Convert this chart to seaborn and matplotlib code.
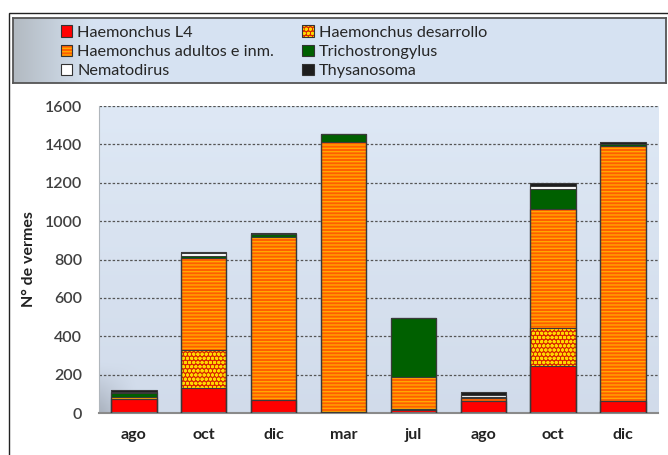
"""
Barras apiladas: carga parasitaria por mes (N° de vermes)
"""

import numpy as np
import pandas as pd
import matplotlib
matplotlib.use("Agg")
import matplotlib.pyplot as plt
from matplotlib.patches import Rectangle, Patch
import seaborn as sns

# Datos
meses = ["ago", "oct", "dic", "mar", "jul", "ago", "oct", "dic"]
haemonchus_l4 = [72, 130, 68, 3, 15, 64, 245, 64]
haemonchus_desarrollo = [0, 200, 0, 0, 5, 0, 200, 0]
haemonchus_adultos = [10, 480, 847, 1407, 170, 12, 620, 1326]
trichostrongylus = [22, 10, 20, 45, 305, 5, 100, 10]
nematodirus = [3, 12, 0, 0, 0, 13, 18, 0]
thysanosoma = [13, 8, 5, 0, 0, 16, 17, 10]

nombres = ["Haemonchus L4", "Haemonchus desarrollo", "Haemonchus adultos e inm.",
           "Trichostrongylus", "Nematodirus", "Thysanosoma"]
series = [haemonchus_l4, haemonchus_desarrollo, haemonchus_adultos,
          trichostrongylus, nematodirus, thysanosoma]

# estilo de cada capa: (relleno, trama, color de trama)
estilos = {
    "Haemonchus L4": ("#ff0000", None, "#ff0000"),
    "Haemonchus desarrollo": ("#d82800", "oooo", "#ffd800"),
    "Haemonchus adultos e inm.": ("#ff5e00", "-----", "#ffa800"),
    "Trichostrongylus": ("#006000", None, "#006000"),
    "Nematodirus": ("#ffffff", None, "#ffffff"),
    "Thysanosoma": ("#1e1e1e", None, "#1e1e1e"),
}

sns.set_style("white")
plt.rcParams["font.family"] = ["Lato", "DejaVu Sans"]
plt.rcParams["hatch.linewidth"] = 1.0

fig = plt.figure(figsize=(6.68, 4.55), dpi=100)
ax = fig.add_axes([0.148, 0.0923, 0.837, 0.6747])

# fondo del área de trazado (degradado suave)
filas, cols = 60, 120
v = np.linspace(0, 1, filas)[:, None]
h = np.linspace(0, 1, cols)[None, :]
top = np.array([0.87, 0.91, 0.96])
bot = np.array([0.82, 0.86, 0.92])
img = top[None, None, :] * (1 - v[..., None]) + bot[None, None, :] * v[..., None]
img = np.broadcast_to(img, (filas, cols, 3)).copy()
sombra = np.clip(1 - h / 0.06, 0, 1) * np.clip((v - 0.85) / 0.15, 0, 1)
img = img * (1 - 0.18 * sombra[..., None])
ax.imshow(img, extent=(-0.5, 7.5, 0, 1600), aspect="auto", zorder=0,
          interpolation="bicubic")

claves = [f"{m}_{i}" for i, m in enumerate(meses)]
acum = np.cumsum(np.array(series, dtype=float), axis=0)

# capas de arriba hacia abajo para que cada una tape la anterior
for k in range(len(nombres) - 1, -1, -1):
    cara, trama, color_trama = estilos[nombres[k]]
    df = pd.DataFrame({"clave": claves, "valor": acum[k]})
    n0 = len(ax.patches)
    sns.barplot(data=df, x="clave", y="valor", order=claves, color=cara,
                facecolor=cara, edgecolor=color_trama, linewidth=0,
                width=0.65, errorbar=None, ax=ax, zorder=2)
    if trama:
        for p in ax.patches[n0:]:
            p.set_hatch(trama)

# contornos de cada segmento
for k in range(len(nombres)):
    df = pd.DataFrame({"clave": claves, "valor": acum[k]})
    sns.barplot(data=df, x="clave", y="valor", order=claves, fill=False,
                color="#3a3a3a", linewidth=0.8, width=0.65, errorbar=None,
                ax=ax, zorder=3)

ax.set_xlim(-0.5, 7.5)
ax.set_ylim(0, 1600)
ax.set_yticks(range(0, 1601, 200))
ax.set_xticks(range(len(meses)))
ax.set_xticklabels(meses, fontsize=11.5, fontweight="bold", color="#222222")
ax.tick_params(axis="y", labelsize=11.5, colors="#404040", length=0, pad=12)
ax.tick_params(axis="x", length=0, pad=11)
for t in ax.get_yticklabels():
    t.set_fontweight("semibold")
ax.set_xlabel("")
ax.set_ylabel("N° de vermes", fontsize=11.5, fontweight="bold", color="#222222",
              labelpad=6)
ax.yaxis.grid(True, color="#555555", linestyle=(0, (2, 1.5)), linewidth=0.9, zorder=1)
ax.set_axisbelow(True)
for lado in ["top", "right"]:
    ax.spines[lado].set_visible(False)
ax.spines["left"].set_color("#b0b6bc")
ax.spines["left"].set_linewidth(0.8)
ax.spines["bottom"].set_color("#8a8a8a")
ax.spines["bottom"].set_linewidth(1.5)

# marco exterior
fig.add_artist(Rectangle((0.0135, -0.05), 1.2, 0.9714 + 0.05,
                         transform=fig.transFigure, facecolor="none",
                         edgecolor="#222222", linewidth=1.0))

# caja de la leyenda con degradado
lax = fig.add_axes([0.0195, 0.818, 0.9775, 0.142])
gh = np.linspace(0, 1, 200)[None, :]
izq = np.array([0.70, 0.73, 0.76])
der = np.array([0.84, 0.89, 0.95])
mezcla = np.clip(gh / 0.12, 0, 1)[..., None]
gimg = izq * (1 - mezcla) + der * mezcla
gimg = np.repeat(gimg, 10, axis=0)
lax.imshow(gimg, extent=(0, 1, 0, 1), aspect="auto", interpolation="bicubic")
lax.set_xticks([])
lax.set_yticks([])
for s in lax.spines.values():
    s.set_color("#555555")
    s.set_linewidth(1.3)

manijas = []
for nombre in nombres:
    cara, trama, color_trama = estilos[nombre]
    relleno = Patch(facecolor=cara, edgecolor=color_trama, linewidth=0, hatch=trama)
    borde = Patch(facecolor="none", edgecolor="#333333", linewidth=0.8)
    manijas.append((relleno, borde))

# orden por columnas para que se lea por filas como en el original
orden = [0, 2, 4, 1, 3, 5]
fig.legend([manijas[i] for i in orden], [nombres[i] for i in orden], ncol=2,
           loc="upper left", bbox_to_anchor=(0.091, 0.944), frameon=False,
           fontsize=11.7, handlelength=0.7, handleheight=0.7, handletextpad=0.3,
           labelspacing=0.3, columnspacing=1.75, borderpad=0, borderaxespad=0)

plt.savefig("out.png", dpi=100)
